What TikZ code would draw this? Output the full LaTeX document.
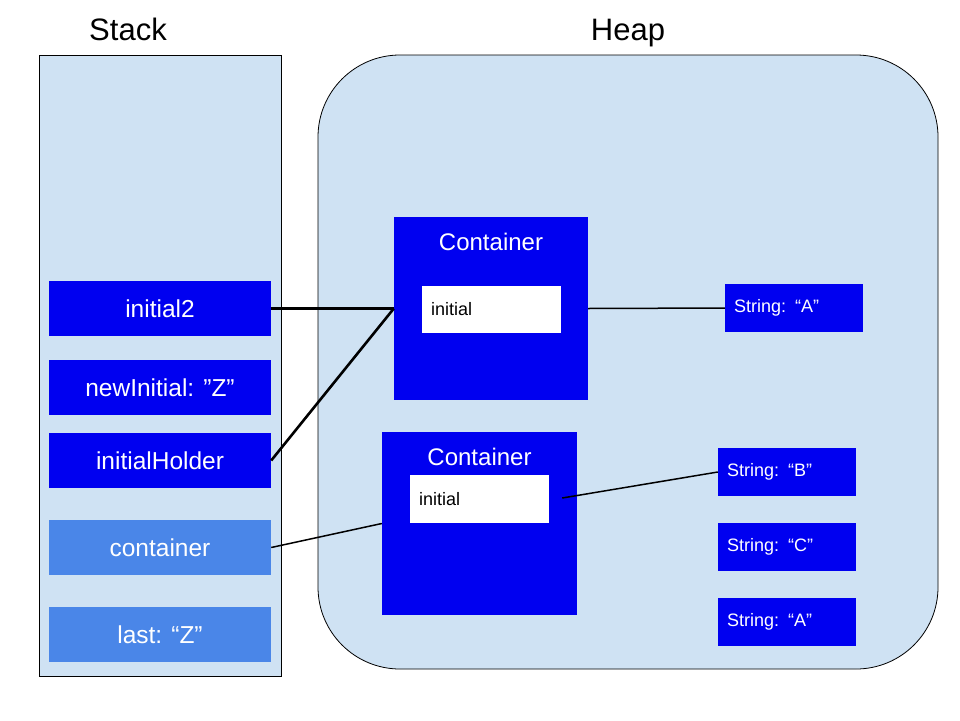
\documentclass[tikz,border=0pt]{standalone}
\usepackage{fontspec}
\setmainfont{Liberation Sans}
\definecolor{bgblue}{HTML}{CFE2F3}
\definecolor{dblue}{HTML}{0000F0}
\definecolor{lblue}{HTML}{4A86E8}
\begin{document}
\begin{tikzpicture}[x=1pt,y=-1pt,
  region/.style={draw=black,line width=0.8pt,fill=bgblue},
  stackitem/.style={fill=dblue,draw=none,minimum width=222pt,minimum height=55pt,inner sep=0pt,text=white,font=\fontsize{24.5}{28}\selectfont},
  stacklight/.style={stackitem,fill=lblue},
  cont/.style={fill=dblue,draw=none,minimum width=194pt,minimum height=183pt,inner sep=0pt},
  contlabel/.style={text=white,font=\fontsize{24}{28}\selectfont,inner sep=0pt,anchor=base},
  field/.style={fill=white,draw=none,minimum width=139pt,minimum height=47pt,text width=121pt,align=left,inner xsep=9pt,inner ysep=0pt,font=\fontsize{18}{20}\selectfont},
  strbox/.style={fill=dblue,draw=none,minimum width=138pt,minimum height=48pt,text width=120pt,align=left,inner xsep=9pt,inner ysep=0pt,text=white,font=\fontsize{18}{20}\selectfont},
  title/.style={font=\fontsize{31}{34}\selectfont,inner sep=0pt,anchor=base},
  ref/.style={draw=black,line width=2.6pt},
  refthin/.style={draw=black,line width=1.5pt}]
\useasboundingbox (0,0) rectangle (960,720);
\fill[white] (0,0) rectangle (960,720);
% regions
\draw[region] (39,55) rectangle (281,676);
\draw[region,rounded corners=82pt] (318,55) rectangle (938,669);
\node[title] (stack) at (128,40) {Stack};
\node[title] (heap) at (628,40) {Heap};
% stack items
\node[stackitem] (i2) at (160,308.5) {initial2};
\node[stackitem] (ni) at (160,387.5) {newInitial: ”Z”};
\node[stackitem] (ih) at (160,460.5) {initialHolder};
\node[stacklight] (co) at (160,547.5) {container};
\node[stacklight] (la) at (160,634.5) {last: “Z”};
% containers
\node[cont] (c1) at (491,308.5) {};
\node[contlabel] (c1l) at (491,250) {Container};
\node[field] (f1) at (491.5,309) {initial\\[-4pt]};
\node[cont,minimum width=195pt] (c2) at (479.5,523.5) {};
\node[contlabel] (c2l) at (479.5,465) {Container};
\node[field,minimum height=48pt] (f2) at (479.5,499) {initial\\[-4pt]};
% strings
\node[strbox] (sa1) at (794,308) {String: “A”};
\node[strbox] (sb) at (787,472) {String: “B”};
\node[strbox] (sc) at (787,547) {String: “C”};
\node[strbox] (sa2) at (787,622) {String: “A”};
% references
\draw[ref] (i2.east) -- (c1.west);
\draw[ref] (ih.east) -- (c1.west);
\draw[refthin] (co.east) -- (c2.west);
\draw[refthin] ([xshift=13pt,yshift=1pt]f2.east) -- (sb.west);
\draw[refthin] (c1.east) -- (sa1.west);
\end{tikzpicture}
\end{document}
